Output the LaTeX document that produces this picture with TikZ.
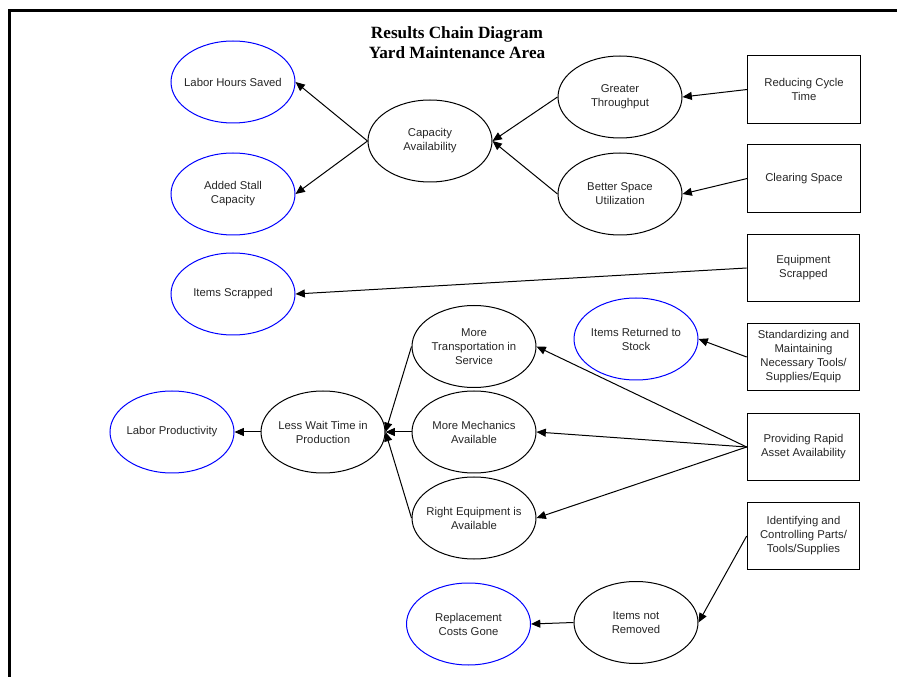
\documentclass[tikz,border=0pt]{standalone}
\usepackage{fontspec}
\setmainfont{Liberation Sans}
\newfontfamily\titlefont{Liberation Serif}
\usetikzlibrary{shapes.geometric,arrows.meta}
\begin{document}
\begin{tikzpicture}[x=0.75pt,y=-0.75pt,
  every node/.style={font=\fontsize{8.5}{10.5}\selectfont, align=center, inner sep=0pt, text=black!85},
  oval/.style={ellipse, draw=black, line width=0.75pt, inner xsep=-40pt, inner ysep=-25pt, minimum width=93pt, minimum height=61.5pt},
  goal/.style={oval, draw=blue},
  box/.style={rectangle, draw=black, line width=0.75pt, minimum width=84.5pt, minimum height=50.5pt},
  link/.style={line width=0.75pt, -{Triangle[length=7pt,width=6pt]}}]
\useasboundingbox (0,0) rectangle (897,677);
\draw[line width=2.25pt] (9.5,677) -- (9.5,10.5) -- (897,10.5);
\node[font=\titlefont\bfseries\fontsize{12.9}{15}\selectfont, text=black] (title) at (457,42.5) {Results Chain Diagram\\Yard Maintenance Area};

\node[goal] (lhs) at (233,82) {Labor Hours Saved};
\node[goal] (asc) at (233,194) {Added Stall\\Capacity};
\node[oval] (cap) at (430,141) {Capacity\\Availability};
\node[oval] (gt) at (620,97) {Greater\\Throughput};
\node[oval] (bsu) at (620,194) {Better Space\\Utilization};
\node[box] (rct) at (804,89.5) {Reducing Cycle\\Time};
\node[box] (cs) at (804,178.5) {Clearing Space};

\node[goal] (is) at (233,294) {Items Scrapped};
\node[box] (es) at (803.5,268) {Equipment\\Scrapped};

\node[oval] (mts) at (474,346.5) {More\\Transportation in\\Service};
\node[goal] (irs) at (636,339) {Items Returned to\\Stock};
\node[box] (smt) at (803.5,357) {Standardizing and\\Maintaining\\Necessary Tools/\\Supplies/Equip};

\node[goal] (lp) at (172,432) {Labor Productivity};
\node[oval] (lwt) at (323,432) {Less Wait Time in\\Production};
\node[oval] (mma) at (474,432) {More Mechanics\\Available};
\node[box] (pra) at (803.5,447) {Providing Rapid\\Asset Availability};
\node[oval] (rea) at (474,518) {Right Equipment is\\Available};

\node[box] (icp) at (803.5,536) {Identifying and\\Controlling Parts/\\Tools/Supplies};
\node[oval] (inr) at (636,622.5) {Items not\\Removed};
\node[goal] (rcg) at (468.5,624) {Replacement\\Costs Gone};

\draw[link] (cap.west) -- (lhs.east);
\draw[link] (cap.west) -- (asc.east);
\draw[link] (gt.west) -- (cap.east);
\draw[link] (bsu.west) -- (cap.east);
\draw[link] (rct.west) -- (gt.east);
\draw[link] (cs.west) -- (bsu.east);
\draw[link] (es.west) -- (is.east);
\draw[link] (smt.west) -- (irs.east);
\draw[link] (pra.west) -- (mts.east);
\draw[link] (pra.west) -- (mma.east);
\draw[link] (pra.west) -- (rea.east);
\draw[link] (mts.west) -- (lwt.east);
\draw[link] (mma.west) -- (lwt.east);
\draw[link] (rea.west) -- (lwt.east);
\draw[link] (lwt.west) -- (lp.east);
\draw[link] (icp.west) -- (inr.east);
\draw[link] (inr.west) -- (rcg.east);
\end{tikzpicture}
\end{document}
